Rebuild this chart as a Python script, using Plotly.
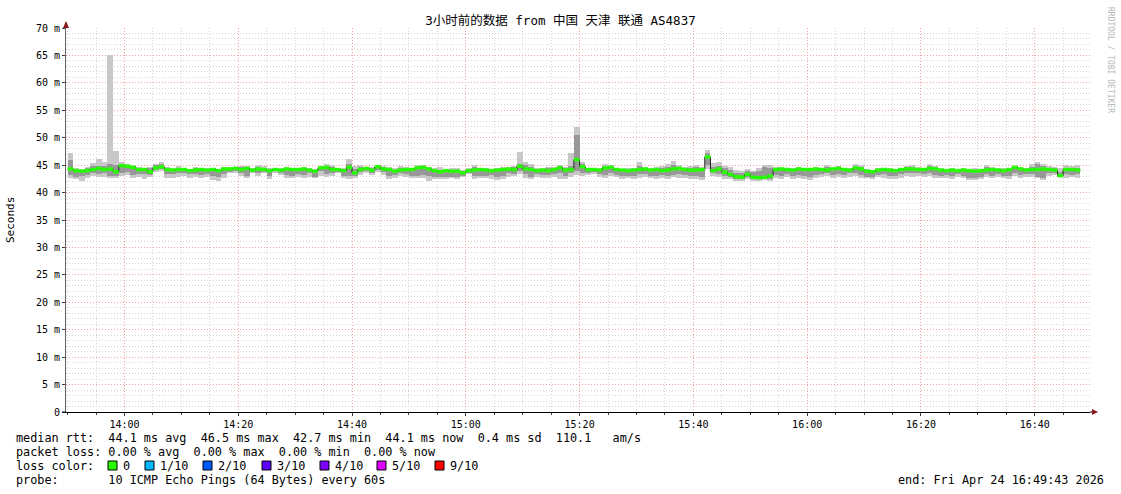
import pandas as pd
import plotly.graph_objects as go

# ---------------- data (ms), one value per minute starting 13:50 ----------------
med = [
    44.3, 44.0, 43.9, 44.0, 44.2, 44.4, 44.2, 44.3, 43.8, 44.9,
    44.8, 44.6, 44.2, 44.2, 43.8, 44.5, 44.7, 44.2, 44.1, 44.2,
    44.2, 44.0, 44.1, 44.2, 44.1, 44.2, 44.0, 44.3, 44.3, 44.4,
    44.2, 44.4, 44.1, 44.3, 44.2, 44.0, 44.2, 44.1, 44.3, 44.2,
    44.2, 44.3, 44.1, 43.9, 44.5, 44.6, 44.2, 44.2, 44.0, 44.6,
    43.6, 44.2, 44.4, 44.1, 44.7, 44.3, 44.2, 43.9, 44.1, 44.2,
    44.2, 44.5, 44.6, 44.3, 44.0, 43.8, 44.0, 43.9, 43.9, 43.6,
    44.0, 44.1, 44.2, 44.1, 44.0, 44.1, 44.2, 44.3, 44.2, 44.8,
    44.3, 44.2, 44.0, 44.1, 44.0, 44.2, 44.5, 44.1, 44.2, 46.0,
    44.7, 44.2, 44.2, 44.1, 44.5, 44.6, 44.2, 44.1, 44.0, 44.1,
    44.2, 44.3, 44.1, 44.2, 44.0, 44.1, 44.3, 44.4, 44.2, 44.1,
    44.1, 44.2, 46.5, 44.0, 44.3, 43.7, 43.3, 42.9, 42.8, 43.3,
    42.8, 42.7, 42.8, 43.0, 44.2, 44.3, 44.2, 44.1, 44.3, 44.2,
    44.2, 44.3, 44.2, 44.1, 44.3, 44.4, 44.2, 44.1, 44.5, 44.3,
    43.9, 43.8, 44.1, 44.2, 44.1, 44.0, 44.2, 44.3, 44.3, 44.2,
    44.2, 44.4, 44.3, 44.1, 44.0, 44.1, 44.0, 44.1, 44.0, 43.9,
    44.0, 44.1, 44.2, 44.1, 44.0, 44.2, 44.6, 44.3, 44.1, 44.2,
    44.2, 44.3, 44.2, 44.1, 43.1, 44.2, 44.2, 44.1,
]
ping_min = [
    42.6, 42.5, 42.2, 42.6, 43.0, 42.8, 42.8, 42.6, 42.6, 43.0,
    43.2, 42.6, 42.8, 42.5, 42.8, 43.8, 44.0, 42.6, 42.6, 42.8,
    43.0, 42.7, 42.8, 42.6, 42.9, 42.3, 42.2, 42.7, 43.5, 43.6,
    43.0, 42.7, 43.6, 43.1, 43.5, 42.5, 43.6, 43.2, 42.6, 42.7,
    42.8, 42.7, 42.9, 42.6, 43.0, 42.8, 43.0, 43.5, 42.6, 42.5,
    42.6, 43.2, 43.5, 43.2, 43.8, 43.2, 42.5, 42.6, 43.0, 42.8,
    42.6, 42.7, 42.6, 42.2, 42.5, 42.5, 42.4, 42.6, 42.5, 42.8,
    43.3, 42.5, 42.6, 42.6, 42.4, 42.3, 42.4, 42.8, 43.0, 43.4,
    42.6, 42.5, 42.8, 42.6, 42.7, 42.9, 42.4, 42.5, 42.8, 43.2,
    43.0, 43.2, 43.4, 42.8, 42.6, 43.0, 42.8, 42.5, 42.6, 42.4,
    42.6, 42.8, 42.6, 42.5, 42.6, 42.4, 42.8, 42.7, 42.6, 42.5,
    42.5, 42.3, 44.3, 43.0, 42.8, 42.5, 42.4, 42.2, 42.2, 42.5,
    42.2, 42.2, 42.3, 42.2, 42.6, 42.5, 42.8, 42.4, 42.6, 42.5,
    42.3, 42.6, 42.8, 43.0, 42.6, 42.8, 42.6, 42.9, 43.0, 42.7,
    42.6, 42.5, 42.8, 42.6, 42.5, 42.4, 42.7, 43.0, 42.8, 43.0,
    42.8, 43.0, 42.6, 42.6, 42.7, 42.5, 42.8, 42.6, 42.3, 42.3,
    42.5, 42.8, 42.6, 42.8, 42.6, 42.5, 43.0, 42.7, 42.8, 42.8,
    42.6, 42.3, 43.0, 43.2, 42.8, 42.6, 42.8, 42.7,
]
ping_max = [
    47.3, 44.5, 44.3, 44.6, 45.4, 46.2, 45.5, 65.0, 47.5, 45.6,
    45.2, 45.0, 44.6, 44.5, 44.6, 45.3, 45.6, 44.6, 44.5, 44.8,
    44.5, 44.3, 44.6, 44.4, 44.5, 44.5, 44.3, 44.7, 44.6, 44.6,
    44.9, 44.8, 44.5, 45.0, 44.8, 44.5, 44.4, 44.5, 44.6, 44.5,
    44.5, 44.6, 44.4, 44.3, 44.8, 45.3, 45.0, 44.4, 44.4, 46.2,
    44.8, 45.0, 44.6, 44.7, 45.1, 44.9, 44.6, 44.4, 44.8, 44.6,
    44.5, 45.0, 45.1, 44.7, 44.4, 44.6, 44.3, 44.4, 44.5, 44.2,
    44.4, 45.0, 44.5, 44.4, 44.3, 44.5, 44.6, 44.7, 44.8, 47.4,
    45.6, 45.2, 44.5, 44.4, 44.6, 44.7, 45.0, 44.6, 47.3, 52.0,
    45.6, 44.5, 44.4, 44.5, 45.3, 45.0, 44.5, 44.3, 44.4, 44.4,
    45.6, 44.7, 44.5, 44.6, 44.8, 45.2, 45.8, 45.0, 44.6, 44.8,
    45.0, 44.6, 47.7, 45.4, 45.5, 44.8, 44.6, 44.2, 44.0, 44.3,
    44.0, 44.4, 45.0, 45.0, 44.6, 44.6, 44.5, 44.4, 44.6, 44.5,
    44.5, 44.6, 44.5, 45.0, 44.6, 44.8, 44.5, 44.5, 45.2, 45.0,
    44.3, 44.2, 44.5, 44.4, 44.5, 44.2, 44.5, 44.9, 45.0, 44.7,
    44.5, 45.2, 44.8, 44.4, 44.3, 44.4, 44.3, 44.4, 44.3, 44.5,
    44.3, 45.0, 44.7, 44.5, 44.4, 44.5, 44.9, 44.6, 44.4, 45.2,
    45.6, 45.2, 44.8, 44.6, 44.4, 45.0, 44.8, 45.0,
]
inner_lo = [
    43.2, 42.9, 43.0, 43.2, 43.6, 43.4, 43.5, 43.1, 43.0, 43.6,
    43.8, 43.2, 43.4, 43.3, 43.2, 44.2, 44.3, 43.4, 43.3, 43.5,
    43.5, 43.3, 43.3, 43.2, 43.4, 43.0, 42.9, 43.3, 43.8, 43.9,
    43.5, 43.0, 43.8, 43.6, 43.8, 43.1, 43.9, 43.6, 43.2, 43.0,
    43.4, 43.2, 43.5, 42.8, 44.0, 43.3, 43.5, 43.8, 43.1, 43.0,
    43.0, 43.7, 43.9, 43.6, 44.2, 43.7, 43.0, 43.2, 43.5, 43.3,
    43.1, 43.0, 43.2, 43.0, 42.8, 42.9, 42.8, 42.9, 42.8, 43.1,
    43.5, 43.1, 43.0, 43.1, 43.2, 42.9, 43.0, 43.5, 43.4, 44.0,
    43.3, 42.9, 43.3, 43.2, 43.2, 43.4, 43.6, 43.1, 43.5, 44.0,
    43.6, 43.5, 43.7, 43.3, 43.2, 43.5, 43.2, 43.0, 43.1, 43.0,
    43.3, 43.4, 43.1, 43.0, 43.2, 43.0, 43.2, 43.4, 43.2, 43.1,
    43.1, 42.8, 45.0, 43.5, 43.4, 43.1, 42.8, 42.5, 42.5, 42.9,
    42.5, 42.4, 42.5, 42.5, 43.2, 43.0, 43.3, 43.0, 43.2, 43.0,
    42.9, 43.2, 43.3, 43.5, 43.2, 43.4, 43.2, 43.5, 43.6, 43.2,
    42.9, 42.8, 43.2, 43.3, 43.1, 43.0, 43.3, 43.6, 43.5, 43.6,
    43.3, 43.5, 43.2, 43.0, 43.2, 43.1, 43.3, 43.0, 42.6, 42.6,
    42.8, 43.3, 43.1, 43.3, 43.0, 43.1, 43.5, 43.2, 43.3, 43.4,
    42.9, 42.6, 43.5, 43.6, 42.9, 43.3, 43.2, 43.3,
]
inner_hi = [
    46.0, 44.2, 44.1, 44.4, 44.8, 44.8, 44.8, 45.2, 45.0, 45.0,
    45.0, 44.8, 44.4, 44.4, 44.4, 45.0, 45.2, 44.4, 44.3, 44.5,
    44.4, 44.2, 44.4, 44.3, 44.3, 44.4, 44.2, 44.5, 44.5, 44.5,
    44.6, 44.6, 44.3, 44.7, 44.5, 44.3, 44.3, 44.3, 44.5, 44.4,
    44.4, 44.4, 44.3, 44.1, 44.7, 44.9, 44.7, 44.3, 44.2, 45.2,
    44.3, 44.6, 44.5, 44.4, 44.9, 44.6, 44.4, 44.2, 44.5, 44.4,
    44.4, 44.8, 44.9, 44.5, 44.2, 44.2, 44.1, 44.2, 44.1, 43.9,
    44.3, 44.6, 44.4, 44.3, 44.2, 44.3, 44.4, 44.5, 44.6, 45.2,
    45.0, 44.7, 44.3, 44.3, 44.4, 44.5, 44.8, 44.4, 44.8, 50.5,
    45.2, 44.4, 44.3, 44.3, 44.8, 44.8, 44.4, 44.2, 44.2, 44.3,
    44.8, 44.5, 44.3, 44.4, 44.5, 44.7, 45.0, 44.6, 44.4, 44.5,
    44.6, 44.4, 47.2, 44.6, 44.8, 44.4, 44.2, 43.6, 43.6, 44.0,
    43.8, 44.0, 44.6, 44.4, 44.4, 44.5, 44.4, 44.3, 44.5, 44.4,
    44.4, 44.5, 44.4, 44.6, 44.5, 44.6, 44.4, 44.3, 44.9, 44.7,
    44.1, 44.0, 44.3, 44.3, 44.3, 44.1, 44.4, 44.6, 44.7, 44.5,
    44.4, 44.9, 44.6, 44.3, 44.2, 44.3, 44.2, 44.3, 44.1, 44.2,
    44.2, 44.6, 44.5, 44.3, 44.2, 44.4, 44.8, 44.5, 44.3, 44.7,
    45.2, 44.8, 44.5, 44.4, 43.8, 44.5, 44.4, 44.5,
]

y_ticks = [0, 5, 10, 15, 20, 25, 30, 35, 40, 45, 50, 55, 60, 65, 70]
y_tick_labels = ["0", "5 m", "10 m", "15 m", "20 m", "25 m", "30 m", "35 m",
                 "40 m", "45 m", "50 m", "55 m", "60 m", "65 m", "70 m"]

title_text = "3小时前的数据 from 中国 天津 联通 AS4837"
legend_lines = [
    "median rtt:  44.1 ms avg  46.5 ms max  42.7 ms min  44.1 ms now  0.4 ms sd  110.1   am/s",
    "packet loss: 0.00 % avg  0.00 % max  0.00 % min  0.00 % now",
    "loss color:",
    "probe:       10 ICMP Echo Pings (64 Bytes) every 60s",
]
loss_labels = ["0", "1/10", "2/10", "3/10", "4/10", "5/10", "9/10"]
loss_colors = ["#26ff00", "#00b8ff", "#0059ff", "#5e00ff", "#7e00ff", "#dd00ff", "#ff0000"]
end_text = "end: Fri Apr 24 16:49:43 2026"

start_time = pd.Timestamp("2026-04-24 13:49:43")
end_time = pd.Timestamp("2026-04-24 16:49:43")

# ---------------- geometry helpers ----------------
W, H = 1121, 494
L, R, T, B = 66, 31, 28, 82
PW, PH = W - L - R, H - T - B


def px(x):
    return (x - L) / PW


def py(y):
    return (H - B - y) / PH


n = len(med)
step_start = pd.date_range("2026-04-24 13:50:00", periods=n, freq="min")
step_mid = step_start + pd.Timedelta(seconds=30)
step_end = step_start + pd.Timedelta(minutes=1)

fig = go.Figure()

# outer smoke (min..max)
fig.add_trace(go.Bar(
    x=step_mid, base=ping_min, y=[b - a for a, b in zip(ping_min, ping_max)],
    width=60000, marker=dict(color="#c8c8c8", line=dict(width=0)), hoverinfo="skip"))
# inner smoke
fig.add_trace(go.Bar(
    x=step_mid, base=inner_lo, y=[b - a for a, b in zip(inner_lo, inner_hi)],
    width=60000, marker=dict(color="#989898", line=dict(width=0)), hoverinfo="skip"))

# black median step line
fig.add_trace(go.Scatter(
    x=list(step_start) + [step_end[-1]], y=med + [med[-1]],
    mode="lines", line=dict(color="#202020", width=1, shape="hv"), hoverinfo="skip"))

# green median bands (per step, no verticals)
gx, gy = [], []
for s, e, m in zip(step_start, step_end, med):
    gx += [s, e, None]
    gy += [m, m, None]
fig.add_trace(go.Scatter(
    x=gx, y=gy, mode="lines", line=dict(color="#26ff00", width=3.5), hoverinfo="skip",
    connectgaps=False))

mono = "DejaVu Sans Mono, monospace"

fig.update_layout(
    width=W, height=H,
    margin=dict(l=L, r=R, t=T, b=B),
    paper_bgcolor="white", plot_bgcolor="white",
    showlegend=False, barmode="overlay", bargap=0,
    title=dict(text=title_text, x=0.5, xanchor="center", y=1 - 21 / H, yanchor="middle",
               font=dict(family="DejaVu Sans Mono, Noto Sans CJK SC", size=12.5, color="#000000")),
    xaxis=dict(
        type="date", range=[start_time, end_time],
        tick0="2026-04-24 14:00:00", dtick=20 * 60 * 1000, tickformat="%H:%M",
        showgrid=True, gridcolor="#f2a0a0", griddash="1px,2px", gridwidth=1,
        minor=dict(dtick=5 * 60 * 1000, showgrid=True, gridcolor="#d6d6d6",
                   griddash="1px,2px", ticks="outside", ticklen=2, tickcolor="#404040"),
        showline=True, linecolor="#000000", linewidth=1,
        ticks="outside", ticklen=3, tickcolor="#404040",
        tickfont=dict(family=mono, size=10, color="#000000"),
        zeroline=False, fixedrange=True,
    ),
    yaxis=dict(
        range=[0, 70], tickvals=y_ticks, ticktext=y_tick_labels,
        showgrid=True, gridcolor="#f2a0a0", griddash="1px,2px", gridwidth=1,
        minor=dict(dtick=1, showgrid=True, gridcolor="#d6d6d6", griddash="1px,2px"),
        showline=True, linecolor="#606060", linewidth=1,
        ticks="outside", ticklen=3, tickcolor="#404040",
        tickfont=dict(family=mono, size=10, color="#000000"),
        zeroline=False, fixedrange=True,
    ),
)

# axis arrows and axis extensions
arrow_col = "#8b1a1a"
fig.add_shape(type="path", xref="paper", yref="paper",
              path=f"M {px(63)},{py(28)} L {px(69)},{py(28)} L {px(66)},{py(21)} Z",
              fillcolor=arrow_col, line=dict(width=0))
fig.add_shape(type="line", xref="paper", yref="paper",
              x0=px(1090), x1=px(1093), y0=0, y1=0, line=dict(color="#000000", width=1))
fig.add_shape(type="line", xref="paper", yref="paper",
              x0=px(62), x1=0, y0=0, y1=0, line=dict(color="#000000", width=1))
fig.add_shape(type="path", xref="paper", yref="paper",
              path=f"M {px(1092)},{py(409)} L {px(1092)},{py(415)} L {px(1098)},{py(412)} Z",
              fillcolor=arrow_col, line=dict(width=0))

NB = "\u00a0"
ann = []
# y-axis title
ann.append(dict(text="Seconds", x=px(10), y=py(220), xref="paper", yref="paper",
                textangle=-90, showarrow=False, xanchor="center", yanchor="middle",
                font=dict(family=mono, size=11, color="#000000")))
# vertical watermark
ann.append(dict(text="RRDTOOL / TOBI OETIKER", x=px(1111), y=py(60), xref="paper", yref="paper",
                textangle=90, showarrow=False, xanchor="center", yanchor="middle",
                font=dict(family=mono, size=8, color="#b8b8b8")))
# legend lines
for i, line in enumerate(legend_lines):
    ann.append(dict(text=line.replace(" ", NB), x=px(14), y=py(438 + 14 * i),
                    xref="paper", yref="paper", showarrow=False,
                    xanchor="left", yanchor="middle",
                    font=dict(family=mono, size=11.8, color="#000000")))
# loss colour boxes
box_x = [108, 145, 203, 262, 320, 377, 435]
for bx, lab, col in zip(box_x, loss_labels, loss_colors):
    fig.add_shape(type="rect", xref="paper", yref="paper",
                  x0=px(bx), x1=px(bx + 9), y0=py(461), y1=py(470),
                  fillcolor=col, line=dict(color="#000000", width=1))
    ann.append(dict(text=lab, x=px(bx + 13), y=py(466), xref="paper", yref="paper",
                    showarrow=False, xanchor="left", yanchor="middle",
                    font=dict(family=mono, size=11.8, color="#000000")))
# end text
ann.append(dict(text=end_text.replace(" ", NB), x=px(1106), y=py(480), xref="paper", yref="paper",
                showarrow=False, xanchor="right", yanchor="middle",
                font=dict(family=mono, size=11.8, color="#000000")))

fig.update_layout(annotations=ann)

fig.write_html("out.html", config={"displayModeBar": False},
               post_script="document.body.style.margin='0';")
